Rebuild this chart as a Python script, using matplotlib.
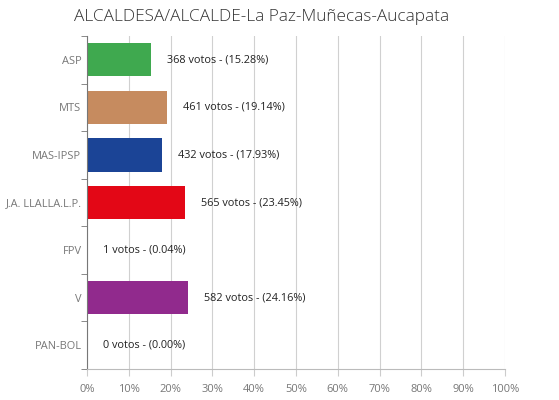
import matplotlib
matplotlib.use("Agg")
import matplotlib.pyplot as plt
from matplotlib.ticker import MultipleLocator, FixedLocator

# data
parties = ["ASP", "MTS", "MAS-IPSP", "J.A. LLALLA.L.P.", "FPV", "V", "PAN-BOL"]
votes = [368, 461, 432, 565, 1, 582, 0]
percents = [15.28, 19.14, 17.93, 23.45, 0.04, 24.16, 0.00]
colors = ["#3fa94f", "#c68b5f", "#1b4496", "#e30716", "#cccccc", "#912a8d", "#cccccc"]

plt.rcParams["font.family"] = ["Open Sans", "DejaVu Sans"]

fig = plt.figure(figsize=(5.59, 4.0), dpi=100)
ax = fig.add_axes([0.1556, 0.0775, 0.7478, 0.8325])

y = list(range(len(parties)))
ax.barh(y, percents, height=0.7, color=colors, zorder=2)

for yi, v, p in zip(y, votes, percents):
    ax.annotate(f"{v} votos - ({p:.2f}%)", xy=(p, yi), xytext=(16, 0),
                textcoords="offset pixels",
                ha="left", va="center", fontsize=7.8, color="#222222", zorder=3)

ax.set_xlim(0, 100)
ax.set_ylim(len(parties) - 0.5, -0.5)
ax.xaxis.set_major_locator(MultipleLocator(10))
ax.xaxis.set_major_formatter(lambda x, pos: f"{x:.0f}%")
ax.set_yticks(y)
ax.set_yticklabels(parties)
ax.yaxis.set_minor_locator(FixedLocator([i + 0.5 for i in range(-1, len(parties))]))

ax.grid(axis="x", color="#d0d0d0", linewidth=0.8, zorder=0)
ax.set_axisbelow(True)

for side in ("top", "right"):
    ax.spines[side].set_visible(False)
ax.spines["left"].set_color("#777777")
ax.spines["bottom"].set_color("#bbbbbb")

ax.tick_params(axis="y", which="major", length=0, pad=4, labelsize=7.9, labelcolor="#777777")
ax.tick_params(axis="y", which="minor", length=4, color="#777777")
ax.tick_params(axis="x", length=5, color="#cccccc", labelsize=8, labelcolor="#777777", pad=6)

fig.text(0.468, 0.958, "ALCALDESA/ALCALDE-La Paz-Muñecas-Aucapata",
         ha="center", va="center", fontsize=12.4, color="#333333", fontweight="light")

fig.savefig("out.png", dpi=100)
